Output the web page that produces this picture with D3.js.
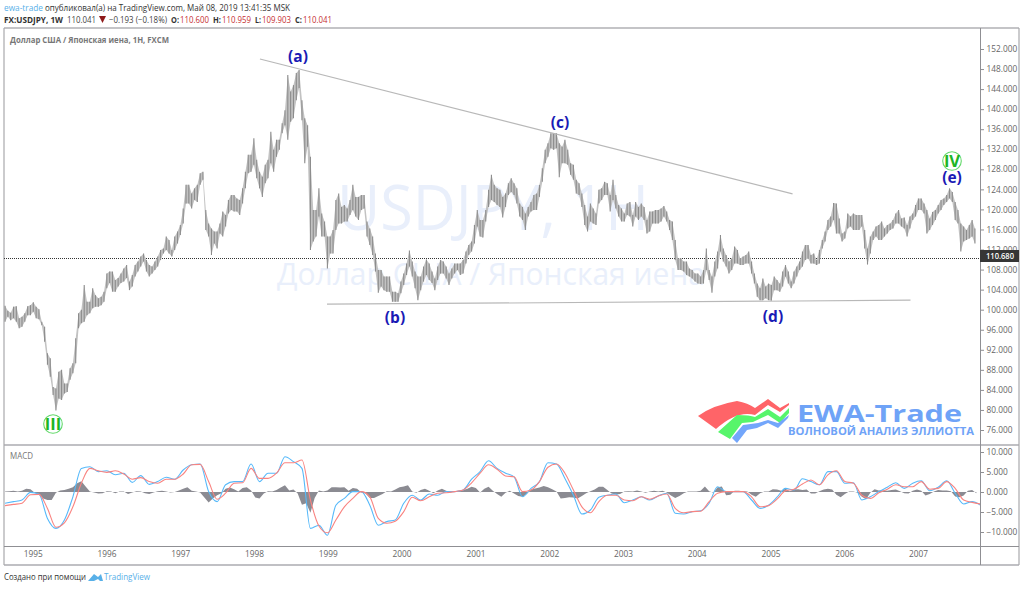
<!DOCTYPE html>
<html>
<head>
<meta charset="utf-8">
<script src="https://d3js.org/d3.v7.min.js"></script>
<style>
  html, body { margin: 0; padding: 0; background: #fff; }
  svg { display: block; }
  text { font-family: "Open Sans", sans-serif; }
  .domain { display: none; }
</style>
</head>
<body>
<svg id="chart" width="1024" height="589"></svg>
<script>
// bars are two weeks apart, macd lines six weeks, histogram three weeks
const first_date = new Date(Date.UTC(1994, 7, 17));
const years = [1995, 1996, 1997, 1998, 1999, 2000, 2001, 2002, 2003, 2004, 2005, 2006, 2007];
const price_ticks = d3.range(76, 153, 4);
const macd_ticks = [10, 5, 0, -5, -10];
const last_close = 110.041;
const last_label = "110.680";

const highs = [100.8,99.8,99.4,100.6,100.7,98.3,98.6,99.3,100.7,100.9,101.5,100.6,100.1,97.6,96.6,91.3,90.3,84.6,84.3,87.6,
  88.0,85.3,85.3,88.3,89.3,94.3,99.3,100.0,104.9,101.6,101.6,104.3,102.9,102.3,102.6,103.6,107.2,107.6,107.6,105.9,
  106.3,107.2,108.2,108.9,105.6,106.9,108.9,109.6,110.6,111.2,109.9,108.9,108.6,109.6,110.6,111.9,112.2,114.6,113.9,111.9,
  114.6,115.6,116.9,120.2,124.9,124.9,123.2,124.2,124.9,127.2,127.5,119.9,117.2,116.2,115.6,115.6,117.2,119.6,118.9,121.9,
  122.9,122.9,122.2,121.9,124.2,127.5,130.9,130.9,134.2,129.9,127.5,126.5,128.9,129.9,135.5,131.9,133.9,133.9,137.2,139.8,
  146.8,143.5,144.8,147.2,147.8,141.8,138.2,136.8,130.5,119.9,119.9,124.2,119.2,117.6,114.6,114.6,115.9,121.9,
  123.2,120.5,120.9,120.2,121.9,124.9,122.5,122.5,122.9,122.9,117.6,116.2,114.6,111.2,107.9,107.9,106.6,106.6,106.6,103.6,
  103.6,103.3,105.6,107.2,109.2,111.8,109.6,107.6,106.6,106.6,108.6,110.0,109.2,107.6,106.2,108.6,109.9,109.6,108.6,107.2,
  108.2,109.2,109.2,109.2,109.9,111.6,112.9,113.6,116.9,119.9,117.9,117.9,119.9,123.9,126.9,124.9,124.2,123.9,122.5,123.2,
  125.2,126.2,125.2,124.2,121.2,120.5,119.2,120.5,121.5,122.9,123.2,124.9,128.2,131.9,133.2,135.2,135.2,135.2,133.2,132.5,
  133.9,131.9,129.2,128.9,125.9,125.2,123.2,120.9,118.6,121.2,120.2,119.2,123.9,124.2,125.5,125.2,122.9,125.9,122.9,120.9,
  120.2,119.2,121.2,121.5,118.9,121.5,120.5,121.2,120.5,117.9,119.6,119.6,119.9,119.9,120.2,120.7,119.6,117.9,117.6,113.9,
  110.2,110.2,109.6,109.6,108.2,107.9,107.2,107.2,106.6,107.9,112.2,107.9,106.6,109.6,111.6,114.9,112.2,110.9,109.6,110.2,
  112.6,111.9,110.2,110.6,110.9,111.6,109.6,107.2,105.2,104.3,106.2,104.6,105.2,104.9,106.6,105.9,105.2,107.6,108.9,107.6,
  105.6,107.6,108.6,109.6,111.6,112.9,112.9,110.9,111.2,109.9,111.9,113.9,115.6,117.9,118.6,121.3,121.2,118.2,115.2,115.6,
  119.2,118.6,119.2,118.9,118.9,118.9,115.9,112.2,114.6,115.6,116.6,116.9,117.6,116.2,116.9,117.2,117.9,119.2,119.9,118.2,
  118.4,116.9,118.6,119.2,120.9,122.2,122.2,121.2,119.9,118.2,119.5,119.9,120.9,121.9,122.2,122.9,124.2,123.5,121.5,119.9,
  117.2,116.6,115.9,116.9,117.9,116.2];
const lows = [97.6,98.6,97.9,98.3,97.6,96.3,96.6,97.6,98.9,98.9,99.6,98.3,98.1,96.9,93.6,89.0,86.6,83.0,79.9,82.3,
  82.0,83.3,83.6,86.0,87.3,89.3,96.3,97.3,97.6,98.9,99.3,100.3,100.6,100.6,100.9,101.6,104.3,105.3,103.6,103.6,
  104.6,105.3,105.6,106.3,103.9,104.6,106.6,107.6,108.6,109.6,107.6,106.6,107.2,107.9,108.6,109.9,111.2,111.9,111.2,110.6,
  111.9,113.2,114.9,117.2,121.2,121.2,120.2,121.9,121.5,124.9,125.9,115.9,114.6,110.9,113.2,112.2,115.2,114.6,116.6,119.2,
  119.9,119.6,119.6,118.9,121.2,124.2,127.2,127.5,128.9,126.2,124.2,122.5,125.2,126.2,129.2,127.5,130.5,131.9,135.2,136.8,
  133.9,137.5,138.2,141.8,144.2,137.8,129.2,132.5,111.9,113.6,114.6,118.6,114.6,114.6,108.2,111.2,111.2,115.9,
  117.2,117.2,117.6,117.6,118.9,119.9,118.6,117.9,119.9,120.2,114.6,112.9,110.9,107.6,103.4,104.6,103.9,103.6,103.6,101.6,
  101.6,101.6,103.3,104.9,106.9,108.6,106.6,104.3,101.9,103.9,105.6,106.9,105.9,105.3,103.9,105.9,107.2,107.2,106.2,104.9,
  106.2,107.2,107.9,106.9,107.2,109.2,110.9,111.6,113.2,116.6,114.6,114.4,117.6,120.5,121.9,121.5,120.9,120.5,118.4,120.5,
  122.9,123.5,122.9,121.2,118.6,117.9,115.9,118.6,119.6,119.9,119.9,122.5,125.5,129.2,130.5,132.2,131.9,132.2,126.4,129.2,
  129.2,128.9,126.9,125.9,123.2,122.9,120.5,116.9,115.6,117.6,117.2,116.9,121.2,121.9,122.9,122.9,119.6,121.9,120.2,118.6,
  117.6,117.6,118.9,118.6,116.6,118.6,117.9,118.6,117.9,115.2,115.6,117.2,117.2,117.2,117.6,118.6,117.6,115.9,113.9,109.9,
  107.9,107.9,107.6,106.9,106.6,106.2,105.6,105.2,105.1,105.2,107.9,105.9,103.4,106.6,108.2,111.6,109.6,108.6,107.2,107.9,
  109.2,109.2,108.9,108.9,109.2,109.2,107.2,105.2,102.6,101.9,101.9,102.3,101.9,101.8,103.9,103.9,103.6,104.6,106.6,105.2,
  104.3,105.2,106.6,107.9,108.6,109.9,110.2,109.2,109.2,108.9,109.2,112.2,113.6,115.9,116.6,117.9,115.2,115.2,113.6,114.2,
  116.2,116.6,115.9,115.9,115.9,116.6,112.2,109.0,111.2,113.9,114.6,113.9,113.9,114.6,115.2,115.9,116.2,117.2,117.2,116.6,
  116.2,114.6,116.2,117.9,118.6,119.9,119.9,119.2,115.2,115.9,116.9,117.9,119.2,119.9,120.9,121.5,122.2,121.5,117.9,117.2,
  111.6,113.6,113.9,114.2,114.6,113.2];

const macd_line = [-2.8,-2.4,-2.0,-0.1,-0.5,-6.6,-9.1,-7.0,-1.2,5.9,6.3,5.1,5.3,4.3,4.7,2.4,4.1,1.9,2.6,3.7,
  3.2,5.5,6.8,7.0,0.1,-2.4,1.8,2.6,2.6,7.0,2.6,4.7,4.7,8.8,7.6,5.9,-9.1,-8.3,-10.8,-3.3,
  -1.6,0.1,0.1,-3.3,-8.3,-7.4,-7.0,-2.8,-0.8,-2.0,-0.5,-0.8,0.1,0.1,0.5,3.2,5.1,7.8,5.9,4.7,
  3.8,-1.2,0.9,2.6,7.3,7.0,3.4,-0.8,-5.5,-4.5,-1.3,-0.8,-0.5,-2.7,-2.0,-1.2,-2.0,-1.0,-0.3,-5.3,
  -5.5,-4.9,-4.7,-2.8,1.3,0.1,0.1,0.1,-2.0,-4.1,-3.3,-1.3,0.9,0.5,3.3,2.6,1.8,5.1,5.1,2.2,
  2.3,-2.0,-1.2,0.1,1.2,2.3,0.9,2.2,2.8,0.3,1.2,2.8,-0.3,-3.0,-2.4,-3.3];
const signal_line = [-3.4,-3.1,-2.8,-0.7,-0.6,-4.1,-8.8,-7.7,-3.7,2.2,5.9,5.3,4.9,5.3,4.5,3.2,3.6,2.6,2.2,3.2,
  3.2,4.5,6.8,6.9,2.6,-1.8,-0.3,2.2,2.3,5.9,3.4,3.4,4.7,7.3,7.3,8.0,-2.0,-8.5,-10.2,-7.0,
  -3.7,-1.6,0.1,-1.2,-6.6,-7.8,-7.3,-4.9,-1.3,-2.2,-1.2,-0.3,-0.2,0.1,0.5,2.3,4.7,6.8,5.7,4.0,
  3.8,0.1,0.5,2.6,6.2,7.0,4.7,0.5,-3.7,-5.2,-2.4,-0.8,-0.8,-2.0,-2.2,-1.2,-1.8,-1.0,-0.5,-4.1,
  -5.2,-4.9,-4.8,-2.4,-0.3,0.1,0.1,0.1,-1.2,-3.7,-3.4,-1.8,0.3,0.7,2.0,3.0,1.8,4.3,5.3,2.6,
  2.2,-0.8,-1.6,-0.2,0.7,1.8,1.3,1.3,2.6,0.7,0.9,2.6,0.9,-2.0,-2.6,-3.0];
const macd_hist = [0.1,0.2,0.3,0.1,0.3,0.8,0.7,-0.2,-0.7,-1.6,-2,-2,-0.2,0.4,0.5,0.8,1.2,2.2,2.7,1.4,
  0.1,-0.1,-0.4,-0.3,0.2,0.1,-0.3,0.1,0.1,-0.5,-0.1,0.2,0.1,-0.3,-0.5,-0.1,0.2,0.3,0.1,-0.1,
  0,0.4,0.8,1.2,0.3,0.1,-0.1,-1.4,-2.6,-1.6,-0.8,-0.3,0.8,1.1,0.7,0.1,1.0,1.2,0.4,-1.4,
  -1.6,-0.4,0.2,0.1,0.5,1.1,1.7,0.4,0.6,-0.4,-3.2,-2.8,-5.2,-1.5,0.4,0.1,0.4,1.2,1.2,1.1,
  1.2,0.3,1,0.8,-0.1,-0.4,-1.5,-1.5,-1.0,-0.5,0.2,0.1,0.6,1.2,1.4,1.7,0.1,-0.2,0.5,0.8,
  0.3,-0.3,0.4,0.8,0.3,-0.1,0.2,0.4,0.5,0.8,1.3,1.0,-0.1,0.8,1.3,0.3,-0.5,-1.2,-0.2,0.3,
  -0.4,-1.0,-1.2,-0.5,0.6,0.9,1.1,1.5,1.2,0.7,0.1,-1.6,-1.5,-1.3,-1.4,-1.6,-1.0,-0.3,0.2,0.6,
  1.3,1.3,0.5,-0.4,-0.6,-0.5,0.1,0.2,0.1,0.4,0.1,-0.2,0.1,0.3,0.1,0.3,-0.1,-0.9,-1.5,-1.0,
  -0.3,0.1,0.1,0.1,0.3,1.4,0.2,-0.2,1.2,1.4,-0.8,-0.7,0.3,0.3,0.2,0.1,-0.7,-1.2,-0.3,0.1,
  0.1,0.7,0.6,0.3,0.8,0.2,0.6,0.7,0.5,0.6,-0.4,-0.4,0.2,0.6,0.8,0.6,-0.7,-1.3,-0.5,0.1,
  0.1,-0.2,-1.2,-1.8,-0.2,0.7,0.4,0.4,0.3,0.5,0.6,0.2,-0.3,-0.4,0.3,0.6,0.3,-0.9,-0.5,0.1,
  0.5,0.4,0.4,0.2,-1.1,-1.3,-0.9,0.3,0.5,-0.3];

// [date, price] ends of the drawn trend lines
const upper_trend = [[Date.UTC(1998, 0, 30), 150], [Date.UTC(2005, 3, 20), 123.1]];
const lower_trend = [[Date.UTC(1998, 11, 28), 101.1], [Date.UTC(2006, 10, 25), 101.9]];

const chart = {left: 4, right: 980, edge: 1019, top: 28, pane: 445, bottom: 547, axis: 565};
const svg = d3.select("#chart");

const x = d3.scaleUtc()
  .domain([new Date(Date.UTC(1995, 0, 1)), new Date(Date.UTC(2007, 0, 1))])
  .range([32.7, 918]);
const y = d3.scaleLinear().domain([152, 76]).range([49, 430]);
const y_macd = d3.scaleLinear().domain([10, -10]).range([452, 532]);
const date_at = (i, days) => d3.utcDay.offset(first_date, i * days);

const defs = svg.append("defs");
defs.append("clipPath").attr("id", "plot").append("rect")
  .attr("x", chart.left).attr("y", chart.top)
  .attr("width", chart.right - chart.left).attr("height", chart.axis - chart.top);

// text squeezed to the width it has in the screenshot
function label(sel, str, px, py, size, fill, len, weight) {
  const t = sel.append("text").attr("x", px).attr("y", py).attr("font-size", size).attr("fill", fill).text(str);
  if (len) t.attr("textLength", len).attr("lengthAdjust", "spacingAndGlyphs");
  if (weight) t.attr("font-weight", weight);
  return t;
}

// watermark goes under everything
label(svg, "USDJPY, 1Н", 337, 230, 62, "#e9effb", 312);
label(svg, "Доллар США / Японская иена", 277, 285, 31, "#e9effb", 428);

// header
label(svg, "ewa-trade", 4, 11, 8.6, "#58b0e8", 39);
label(svg, "опубликовал(а) на TradingView.com, Май 08, 2019 13:41:35 MSK", 45, 11, 8.6, "#333", 245);
label(svg, "FX:USDJPY, 1W", 4, 23, 8.6, "#333", 59, 700);
label(svg, "110.041", 67, 23, 8.6, "#444", 29);
svg.append("path").attr("d", "M99,16L106,16L102.5,23Z").attr("fill", "#8e1a1a");
label(svg, "−0.193 (−0.18%)", 109, 23, 8.6, "#444", 58);
[["O:", 171, 8, "110.600", 180], ["H:", 213, 8, "110.959", 222], ["L:", 255, 6, "109.903", 262], ["C:", 295, 7, "110.041", 303]].forEach(d => {
  label(svg, d[0], d[1], 23, 8.6, "#333", d[2], 700);
  label(svg, d[3], d[4], 23, 8.6, "#c62f32", 29);
});

label(svg, "Доллар США / Японская иена, 1Н, FXCM", 10, 43, 8.8, "#777", 159, 700);

// frame
const frame = svg.append("g");
frame.append("line").attr("x1", chart.left).attr("x2", chart.edge).attr("y1", chart.top).attr("y2", chart.top)
  .attr("stroke", "#b0b0b4").attr("stroke-width", 1.5);
frame.append("line").attr("x1", chart.left).attr("x2", chart.edge).attr("y1", chart.pane).attr("y2", chart.pane)
  .attr("stroke", "#c0c0c4").attr("stroke-width", 2);
frame.append("line").attr("x1", chart.left).attr("x2", chart.edge).attr("y1", chart.axis).attr("y2", chart.axis)
  .attr("stroke", "#c0c0c4").attr("stroke-width", 2);
frame.append("line").attr("x1", chart.left).attr("x2", chart.left).attr("y1", chart.top).attr("y2", chart.axis)
  .attr("stroke", "#a8a8ac").attr("stroke-width", 1.2);
frame.append("line").attr("x1", chart.edge).attr("x2", chart.edge).attr("y1", chart.top).attr("y2", chart.axis)
  .attr("stroke", "#a8a8ac").attr("stroke-width", 1.2);
frame.append("line").attr("x1", chart.right + 0.5).attr("x2", chart.right + 0.5).attr("y1", chart.top).attr("y2", chart.axis)
  .attr("stroke", "#8f8f93");
frame.append("line").attr("x1", chart.left).attr("x2", chart.edge).attr("y1", chart.bottom - 0.5).attr("y2", chart.bottom - 0.5)
  .attr("stroke", "#8f8f93");

const plot = svg.append("g").attr("clip-path", "url(#plot)");

// last close line
plot.append("line").attr("x1", chart.left).attr("x2", chart.right)
  .attr("y1", Math.round(y(last_close)) - 0.5).attr("y2", Math.round(y(last_close)) - 0.5)
  .attr("stroke", "#333").attr("stroke-width", 1).attr("stroke-dasharray", "1,1");

// price bars, with the high-low band under them so steep runs stay joined
const band = d3.area().x((d, i) => x(date_at(i, 14))).y0((d, i) => y(lows[i])).y1(d => y(d));
plot.append("path").attr("d", band(highs)).attr("fill", "#c2c2c2");
plot.append("g").selectAll("line").data(highs).enter().append("line")
  .attr("x1", (d, i) => x(date_at(i, 14))).attr("x2", (d, i) => x(date_at(i, 14)))
  .attr("y1", d => y(d)).attr("y2", (d, i) => y(lows[i]))
  .attr("stroke", "#8c8c8c").attr("stroke-width", 1.1);

// trend lines
[upper_trend, lower_trend].forEach(t => {
  plot.append("line")
    .attr("x1", x(t[0][0])).attr("y1", y(t[0][1]))
    .attr("x2", x(t[1][0])).attr("y2", y(t[1][1]))
    .attr("stroke", "#b8b8b8").attr("stroke-width", 1.1);
});

// macd pane
const hist_area = d3.area().x((d, i) => x(date_at(i, 21))).y0(y_macd(0)).y1(d => y_macd(d));
plot.append("path").attr("d", hist_area(macd_hist)).attr("fill", "#8b8b92");

const macd_path = d3.line().x((d, i) => x(date_at(i, 42))).y(d => y_macd(d)).curve(d3.curveMonotoneX);
plot.append("path").attr("d", macd_path(macd_line)).attr("fill", "none").attr("stroke", "#56b9fa").attr("stroke-width", 1.1);
plot.append("path").attr("d", macd_path(signal_line)).attr("fill", "none").attr("stroke", "#f98380").attr("stroke-width", 1.1);

label(svg, "MACD", 10, 459, 8.3, "#777", 23);

// axes
function style_axis(g) {
  g.selectAll("text").attr("font-size", 8.3).attr("fill", "#666").attr("font-family", "Open Sans");
  g.selectAll("line").attr("stroke", "#8f8f93");
}
svg.append("g").attr("transform", `translate(${chart.right + 1},0)`)
  .call(d3.axisRight(y).tickValues(price_ticks).tickFormat(d3.format(".3f")).tickSize(3).tickPadding(2.5))
  .call(style_axis);
svg.append("g").attr("transform", `translate(${chart.right + 1},0)`)
  .call(d3.axisRight(y_macd).tickValues(macd_ticks).tickFormat(d => d3.format(".3f")(d).replace("-", "−")).tickSize(3).tickPadding(2.5))
  .call(style_axis);
svg.append("g").attr("transform", `translate(0,${chart.bottom - 1})`)
  .call(d3.axisBottom(x).tickValues(years.map(d => new Date(Date.UTC(d, 0, 1)))).tickFormat(d3.utcFormat("%Y")).tickSize(0).tickPadding(5))
  .call(style_axis);

// last price tag
svg.append("rect").attr("x", chart.right).attr("y", 250).attr("width", 39).attr("height", 12).attr("fill", "#363636");
label(svg, last_label, 986, 259, 8.3, "#fff", 28, 600);

// wave labels
const wave_labels = [["(a)", 298, 62], ["(b)", 395, 323], ["(c)", 560, 128], ["(d)", 773, 322], ["(e)", 952, 183]];
svg.append("g").selectAll("text").data(wave_labels).enter().append("text")
  .attr("x", d => d[1]).attr("y", d => d[2]).attr("text-anchor", "middle")
  .attr("font-size", 15.5).attr("font-weight", 700).attr("fill", "#1a1ab5").text(d => d[0]);

[["III", 53, 424], ["IV", 952, 161]].forEach(d => {
  svg.append("circle").attr("cx", d[1]).attr("cy", d[2]).attr("r", 9.3)
    .attr("fill", "#fff").attr("stroke", "#63d96b").attr("stroke-width", 1.1);
  svg.append("text").attr("x", d[1]).attr("y", d[2] + 6).attr("text-anchor", "middle")
    .attr("font-size", 16.5).attr("font-weight", 700).attr("fill", "#1cb526").text(d[0]);
});

// EWA-Trade logo
const logo = svg.append("g");
logo.append("path").attr("fill", "#ff6468")
  .attr("d", "M698,416 Q713,405 737,401 Q748,403 755,408 L768,399 L780,408 L789,403 L789,405 L780,412 L768,405 L755,415 Q737,410 716,429Z");
logo.append("path").attr("fill", "#57f56b")
  .attr("d", "M718,432 L737,415 Q750,415 755,417 L768,409 L780,417 L789,408 L789,413 L780,423 L768,415 L753,422 L742,423 L730,439Z");
logo.append("path").attr("fill", "#73a6fb")
  .attr("d", "M732,438 L743,425 L758,423 L768,420 L778,423 L789,415 L788,418 L778,428 L768,423 L757,428 L747,430 L737,443Z");
label(logo, "EWA-Trade", 797, 422, 24, "#6fa3f7", 165, 700).attr("font-family", "DejaVu Sans");
label(logo, "ВОЛНОВОЙ АНАЛИЗ ЭЛЛИОТТА", 788, 435, 11, "#6fa3f7", 186, 700).attr("font-family", "DejaVu Sans");

// footer
label(svg, "Создано при помощи", 4, 580, 8.6, "#333", 82);
svg.append("path").attr("fill", "#58b0e8")
  .attr("d", "M88,581 L94,574 L98,577 L101,574 L103,581 L100,581 L98,579 L94,581Z");
label(svg, "TradingView", 104, 580, 9, "#58b0e8", 46);
</script>
</body>
</html>
